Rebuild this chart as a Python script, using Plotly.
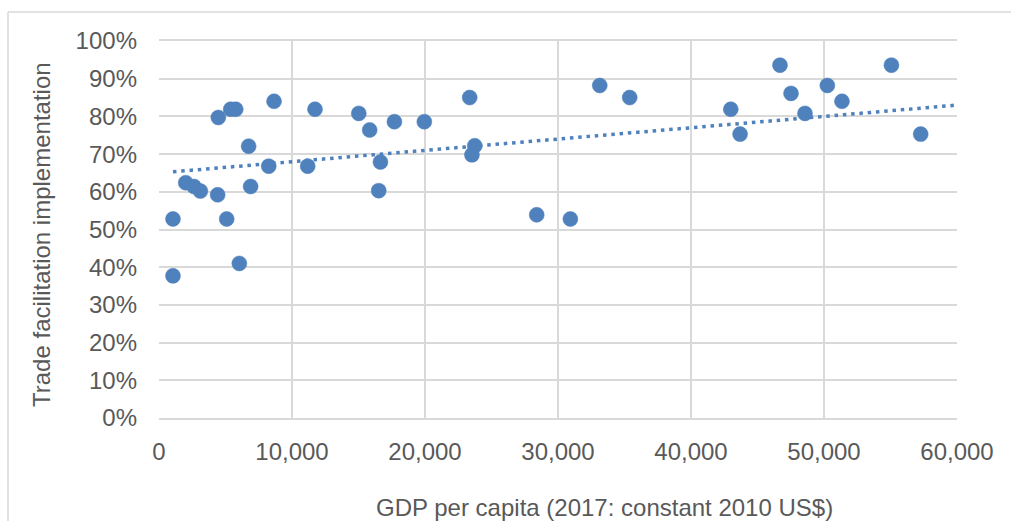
import plotly.graph_objects as go

gdp_per_capita = [1050, 1050, 2010, 2630, 3110, 4410, 4460, 5090, 5390, 5770,
                  6040, 6740, 6890, 8650, 8250, 11730, 11180, 15020, 15840, 16650,
                  16520, 17700, 19950, 23360, 23740, 23530, 28400, 30930, 33140, 35390,
                  42990, 43690, 46690, 47520, 48570, 50250, 51350, 55070, 57270]
tf_implementation = [0.528, 0.377, 0.624, 0.614, 0.602, 0.592, 0.797, 0.528, 0.819, 0.819,
                     0.410, 0.721, 0.614, 0.840, 0.668, 0.819, 0.668, 0.808, 0.764, 0.679,
                     0.603, 0.786, 0.786, 0.850, 0.722, 0.698, 0.539, 0.528, 0.882, 0.850,
                     0.819, 0.753, 0.936, 0.861, 0.808, 0.882, 0.840, 0.936, 0.753]
# Linear trendline endpoints
trend_gdp = [1050, 60000]
trend_tf = [0.653, 0.830]

x_ticks = [0, 10000, 20000, 30000, 40000, 50000, 60000]
y_ticks = [0, 0.1, 0.2, 0.3, 0.4, 0.5, 0.6, 0.7, 0.8, 0.9, 1.0]

x_title = "GDP per capita (2017: constant 2010 US$)"
y_title = "Trade facilitation implementation"

blue = "#4F81BD"
grid = "#D9D9D9"
text_col = "#595959"
font_fam = "Liberation Sans, Arial, sans-serif"
FS = 24

fig = go.Figure()
fig.add_trace(go.Scatter(
    x=trend_gdp, y=trend_tf, mode="lines",
    line=dict(color=blue, width=3.5, dash="3.5px,4.8px"),
    hoverinfo="skip", showlegend=False))
fig.add_trace(go.Scatter(
    x=gdp_per_capita, y=tf_implementation, mode="markers",
    marker=dict(color=blue, size=15, line=dict(color=blue, width=0.5)),
    showlegend=False))

W, H = 1011, 521
L, R, T, B = 159, 957, 41, 418
pw, ph = R - L, B - T

def px_x(p):
    return (p - L) / pw

def px_y(p):
    return (B - p) / ph

fig.update_layout(
    width=W, height=H, autosize=False,
    margin=dict(l=L, r=W - R, t=T, b=H - B, pad=0, autoexpand=False),
    paper_bgcolor="white", plot_bgcolor="white",
    font=dict(family=font_fam, size=FS, color=text_col),
    showlegend=False,
    xaxis=dict(
        range=[x_ticks[0], x_ticks[-1]], tickvals=x_ticks,
        tickformat=",d", showgrid=True, gridcolor=grid, gridwidth=1.5,
        zeroline=False, showline=True, linecolor=grid, linewidth=1.5,
        mirror=True, ticks="", ticklabelstandoff=11, automargin=False,
        fixedrange=True),
    yaxis=dict(
        range=[y_ticks[0], y_ticks[-1]], tickvals=y_ticks,
        tickformat=".0%", showgrid=True, gridcolor=grid, gridwidth=1.5,
        zeroline=False, showline=False, ticks="", ticklabelstandoff=21,
        automargin=False, fixedrange=True),
    annotations=[
        dict(text=x_title, xref="paper", yref="paper",
             x=px_x(604), y=px_y(507), xanchor="center", yanchor="middle",
             showarrow=False, font=dict(size=FS, color=text_col)),
        dict(text=y_title, xref="paper", yref="paper",
             x=px_x(41), y=px_y(235), xanchor="center", yanchor="middle",
             textangle=-90, showarrow=False, font=dict(size=FS, color=text_col)),
    ],
    shapes=[
        dict(type="line", xref="paper", yref="paper",
             x0=px_x(8), x1=px_x(W + 10), y0=px_y(12), y1=px_y(12),
             line=dict(color=grid, width=1.5), layer="below"),
        dict(type="line", xref="paper", yref="paper",
             x0=px_x(8), x1=px_x(8), y0=px_y(12), y1=px_y(H + 10),
             line=dict(color=grid, width=1.5), layer="below"),
    ],
)

fig.write_html(
    "out.html",
    config={"displayModeBar": False},
    post_script="document.body.style.margin='0px';document.body.style.overflow='hidden';",
)
